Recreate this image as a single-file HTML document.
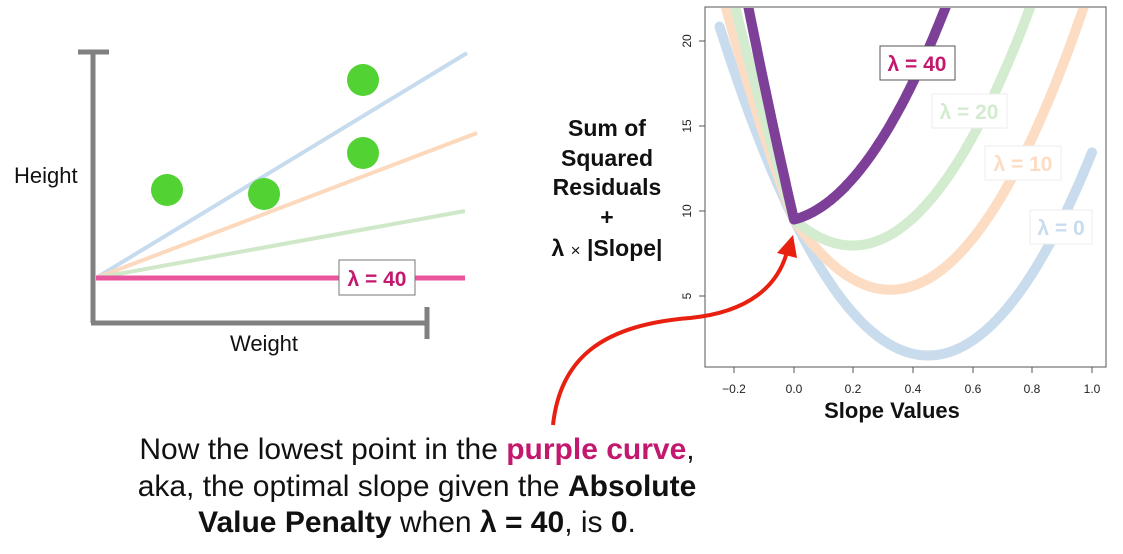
<!DOCTYPE html>
<html><head><meta charset="utf-8"><style>
html,body{margin:0;padding:0;background:#fff;}
svg{display:block;font-family:"Liberation Sans",sans-serif;}
</style></head><body>
<svg id="s" width="1123" height="554" viewBox="0 0 1123 554" xmlns="http://www.w3.org/2000/svg">
<g stroke="#808080" stroke-width="5" fill="none">
<line x1="93" y1="52" x2="93" y2="323"/>
<line x1="78" y1="52" x2="109" y2="52"/>
<line x1="91" y1="323" x2="427" y2="323"/>
<line x1="427" y1="307" x2="427" y2="339"/>
</g>
<line x1="96" y1="278" x2="467" y2="53" stroke="#c6dbee" stroke-width="4"/>
<line x1="96" y1="278" x2="477" y2="133" stroke="#fcd9bd" stroke-width="4"/>
<line x1="96" y1="278" x2="465" y2="211" stroke="#cfe8c8" stroke-width="4"/>
<line x1="96" y1="278" x2="465" y2="278" stroke="#e9569b" stroke-width="5"/>
<g fill="#52d233">
<circle cx="167" cy="190" r="16"/><circle cx="264" cy="194" r="16"/>
<circle cx="363" cy="80" r="16"/><circle cx="363" cy="153" r="16"/>
</g>
<rect x="339" y="260" width="76" height="35" fill="#fff" stroke="#777" stroke-width="1"/>
<text x="377" y="286" text-anchor="middle" font-size="21" font-weight="bold" fill="#c2196e">λ = 40</text>
<text x="14" y="183" font-size="22" fill="#111">Height</text>
<text x="264" y="351" text-anchor="middle" font-size="22" fill="#111">Weight</text>

<g font-size="23" font-weight="bold" text-anchor="middle" fill="#111">
<text x="607" y="136">Sum of</text>
<text x="607" y="166">Squared</text>
<text x="607" y="195">Residuals</text>
<text x="607" y="225">+</text>
<text x="607" y="256">λ <tspan font-weight="normal" font-size="17">×</tspan> |Slope|</text>
</g>

<defs><clipPath id="c"><rect x="706" y="8" width="400" height="359"/></clipPath></defs>
<g id="curves" clip-path="url(#c)" fill="none" stroke-linecap="round" stroke-linejoin="round"></g>
<rect x="705" y="7" width="401" height="360" fill="none" stroke="#555" stroke-width="1"/>
<g stroke="#555" stroke-width="1">
<line x1="734" y1="367" x2="734" y2="373"/><line x1="794" y1="367" x2="794" y2="373"/>
<line x1="853" y1="367" x2="853" y2="373"/><line x1="913" y1="367" x2="913" y2="373"/>
<line x1="973" y1="367" x2="973" y2="373"/><line x1="1032" y1="367" x2="1032" y2="373"/>
<line x1="1092" y1="367" x2="1092" y2="373"/>
<line x1="699" y1="41" x2="705" y2="41"/><line x1="699" y1="126" x2="705" y2="126"/>
<line x1="699" y1="211" x2="705" y2="211"/><line x1="699" y1="296" x2="705" y2="296"/>
</g>
<g font-size="12" fill="#222" text-anchor="middle">
<text x="734" y="393">−0.2</text><text x="794" y="393">0.0</text><text x="853" y="393">0.2</text>
<text x="913" y="393">0.4</text><text x="973" y="393">0.6</text><text x="1032" y="393">0.8</text>
<text x="1092" y="393">1.0</text>
<text transform="translate(691,41) rotate(-90)">20</text>
<text transform="translate(691,126) rotate(-90)">15</text>
<text transform="translate(691,211) rotate(-90)">10</text>
<text transform="translate(691,296) rotate(-90)">5</text>
</g>
<text x="892" y="418" text-anchor="middle" font-size="22" font-weight="bold" fill="#111">Slope Values</text>

<g font-size="21" font-weight="bold" text-anchor="middle">
<rect x="880" y="46" width="75" height="34" fill="#fff" stroke="#555"/>
<text x="917" y="71" fill="#c2196e">λ = 40</text>
<rect x="932" y="94" width="75" height="34" fill="#fff" stroke="#eee"/>
<text x="969" y="119" fill="#d3ebcf">λ = 20</text>
<rect x="985" y="146" width="76" height="34" fill="#fff" stroke="#eee"/>
<text x="1023" y="171" fill="#fddcc4">λ = 10</text>
<rect x="1030" y="210" width="62" height="34" fill="#fff" stroke="#eee"/>
<text x="1061" y="235" fill="#c9dced">λ = 0</text>
</g>

<path d="M553,425 C560,360 600,325 690,318 C750,312 778,285 787,252" fill="none" stroke="#e8200f" stroke-width="4"/>
<polygon points="793,235 777,253 797,258" fill="#e8200f"/>

<g font-size="30" text-anchor="middle" fill="#111">
<text x="417" y="459">Now the lowest point in the <tspan fill="#c2196e" font-weight="bold">purple curve</tspan>,</text>
<text x="417" y="496">aka, the optimal slope given the <tspan font-weight="bold">Absolute</tspan></text>
<text x="417" y="532"><tspan font-weight="bold">Value Penalty</tspan> when <tspan font-weight="bold">λ = 40</tspan>, is <tspan font-weight="bold">0</tspan>.</text>
</g>
</svg>
<script>
(function(){
var g=document.getElementById('curves');
function X(s){return 794+298*s;}
function Y(v){return 211-17*(v-10);}
var defs=[[0,'#c9dced',10],[10,'#fddcc4',10],[20,'#d3ebcf',10],[40,'#7d3f98',10]];
defs.forEach(function(d){
  var p='';
  for(var i=0;i<=250;i++){var s=-0.25+1.25*i/250;
    var v=39.5*(s-0.45)*(s-0.45)+1.5+d[0]*Math.abs(s);
    p+=(i?'L':'M')+X(s).toFixed(1)+','+Y(v).toFixed(1);}
  var e=document.createElementNS('http://www.w3.org/2000/svg','path');
  e.setAttribute('d',p);e.setAttribute('stroke',d[1]);e.setAttribute('stroke-width',d[2]);
  g.appendChild(e);
});
})();
</script>
</body></html>
